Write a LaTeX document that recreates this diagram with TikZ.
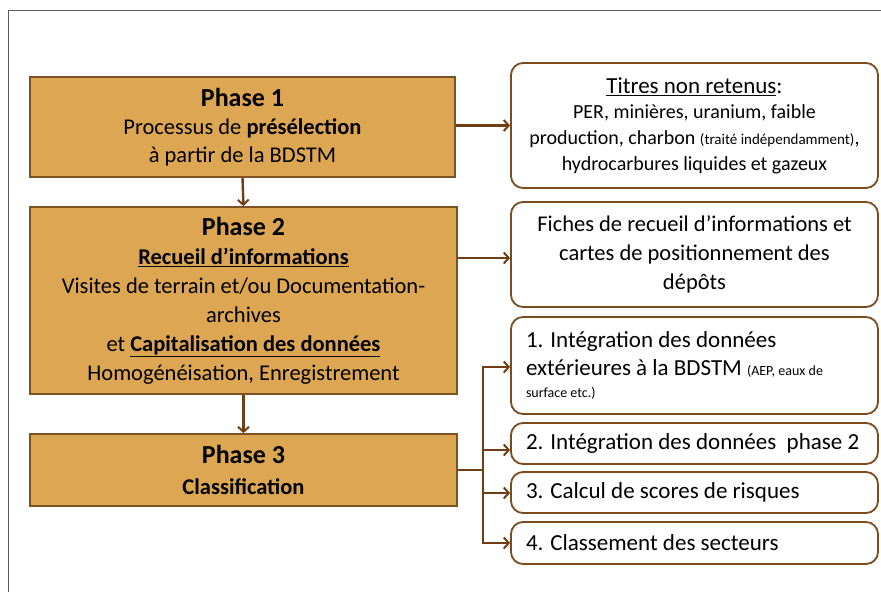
\documentclass[tikz,border=0pt]{standalone}
\usepackage{fontspec}
\setmainfont{Carlito}
\usetikzlibrary{arrows.meta}
\definecolor{phasefill}{RGB}{221,166,82}
\definecolor{phasedraw}{RGB}{125,82,34}
\definecolor{arrowc}{RGB}{112,62,20}
\definecolor{boxdraw}{RGB}{122,76,30}
\definecolor{framec}{RGB}{90,90,90}
\tikzset{
  phasebox/.style={draw=phasedraw, fill=phasefill, line width=1.8pt, rectangle, align=center, inner sep=0pt},
  outbox/.style={draw=boxdraw, fill=white, line width=1.8pt, rounded corners=12pt, rectangle, inner sep=0pt},
  listbox/.style={outbox, minimum width=367pt, align=flush left, text width=337pt, font=\fontsize{23}{28}\selectfont},
  conn/.style={draw=arrowc, line width=2.4pt, -{Straight Barb[length=5pt,width=11pt,line width=2pt]}},
  plain/.style={draw=arrowc, line width=2.4pt},
}
\begin{document}
\begin{tikzpicture}[x=1pt,y=-1pt]
\useasboundingbox (0,0) rectangle (881,592);
\draw[framec, line width=1pt] (881,10) -- (8,10) -- (8,592);

% phase boxes
\node[phasebox, minimum width=425pt, minimum height=100pt,
      font=\fontsize{22.5}{28}\selectfont] (p1) at (242.5,127)
  {{\fontsize{26}{28}\selectfont\bfseries Phase 1}\\
   Processus de \textbf{présélection}\\
   à partir de la BDSTM};
\node[phasebox, minimum width=427pt, minimum height=187pt,
      font=\fontsize{22.5}{29}\selectfont] (p2) at (243.5,300.5)
  {{\fontsize{26}{29}\selectfont\bfseries Phase 2}\\
   \textbf{\underline{Recueil d’informations}}\\
   Visites de terrain et/ou Documentation-\\
   archives\\
   et \textbf{\underline{Capitalisation des données}}\\
   Homogénéisation, Enregistrement};
\node[phasebox, minimum width=427pt, minimum height=72pt,
      font=\fontsize{22.5}{31}\selectfont] (p3) at (243.5,470)
  {{\fontsize{26}{31}\selectfont\bfseries Phase 3}\\
   \textbf{Classification}};

% output boxes
\node[outbox, minimum width=367pt, minimum height=125pt, align=center,
      font=\fontsize{20}{25.7}\selectfont] (a) at (694.5,125.5)
  {{\fontsize{23}{25.7}\selectfont\underline{Titres non retenus}:}\\
   PER, minières, uranium, faible\\
   production, charbon {\fontsize{15}{25.7}\selectfont (traité indépendamment)},\\
   hydrocarbures liquides et gazeux};
\node[outbox, minimum width=367pt, minimum height=105pt, align=center,
      font=\fontsize{22.5}{29}\selectfont] (b) at (694.5,254.5)
  {Fiches de recueil d’informations et\\
   cartes de positionnement des\\
   dépôts};
\node[listbox, minimum height=97pt] (c) at (694.5,365.5)
  {1. Intégration des données\\
   extérieures à la BDSTM {\fontsize{14}{28}\selectfont (AEP, eaux de}\\[-6pt]
   {\fontsize{14}{28}\selectfont surface etc.)}};
\node[listbox, minimum height=41pt] (d) at (694.5,443.5)
  {2. Intégration des données\ \ phase 2};
\node[listbox, minimum height=41pt] (e) at (694.5,492.5)
  {3. Calcul de scores de risques};
\node[listbox, minimum height=42pt] (f) at (694.5,543)
  {4. Classement des secteurs};

% connectors
\draw[conn] (p1.south) -- (p2.north);
\draw[conn] (p2.south) -- (p3.north);
\draw[conn] (p1.east |- a.west) -- (a.west);
\coordinate (bin) at ([yshift=-3.5pt]b.west);
\draw[conn] (p2.east |- bin) -- (bin);
\coordinate (br) at (483,470);
\coordinate (bc) at (483,367);
\coordinate (bd) at (483,450);
\coordinate (be) at (483,493);
\coordinate (bf) at (483,543);
\draw[plain] (p3.east) -- (br);
\draw[plain, line cap=rect] (bc) -- (bf);
\draw[conn] (bc) -- (c.west |- bc);
\draw[conn] (bd) -- (d.west |- bd);
\draw[conn] (be) -- (e.west |- be);
\draw[conn] (bf) -- (f.west |- bf);
\end{tikzpicture}
\end{document}
